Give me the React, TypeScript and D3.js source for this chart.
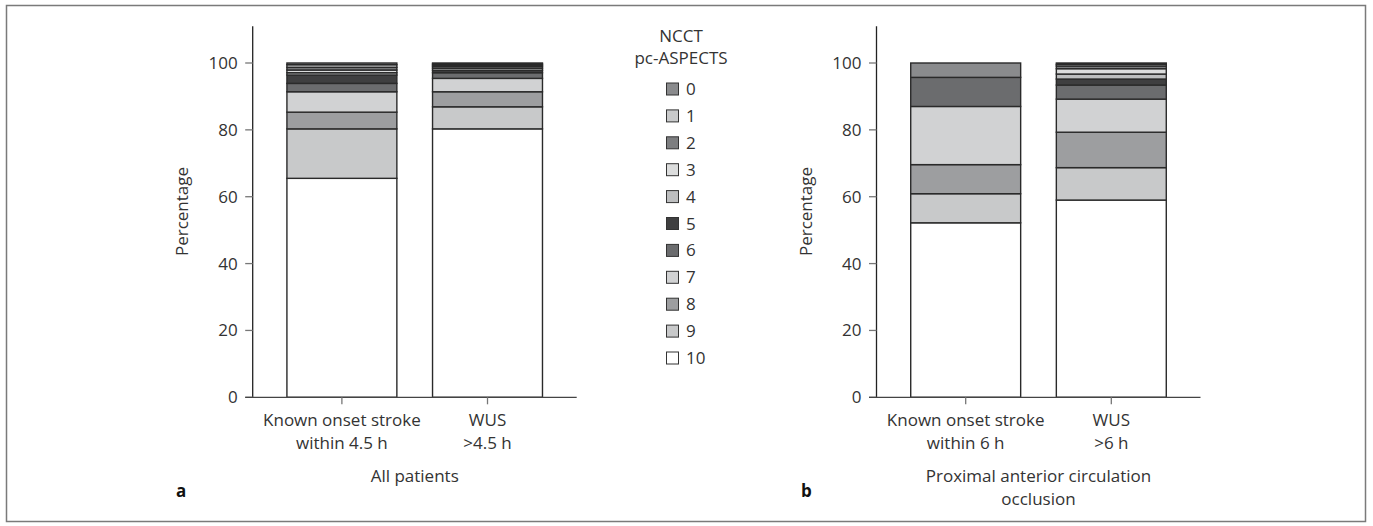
import React, {useEffect, useRef} from 'react';
import * as d3 from 'd3';

// pc-ASPECTS scores, legend order top to bottom
const scores = ['0', '1', '2', '3', '4', '5', '6', '7', '8', '9', '10'];
const scoreColors = ['#8a8b8d', '#c9cacb', '#7d7e80', '#dcdddd', '#bdbebf', '#3f3f40', '#6b6c6e', '#d1d2d3', '#9d9ea0', '#c8c9ca', '#ffffff'];

// panel a: all patients (percent for score 0..10)
const groupsA = ['known', 'wus'];
const labelsA = [['Known onset stroke', 'within 4.5 h'], ['WUS', '>4.5 h']];
const knownA = [0.5, 0.8, 0.8, 0.8, 0.7, 2.5, 2.5, 6.1, 5.0, 14.8, 65.5];
const wusA = [0.3, 0.4, 0.4, 0.5, 0.6, 0.7, 1.7, 4.0, 4.5, 6.6, 80.3];

// panel b: proximal anterior circulation occlusion
const groupsB = ['known', 'wus'];
const labelsB = [['Known onset stroke', 'within 6 h'], ['WUS', '>6 h']];
const knownB = [4.3, 0, 0, 0, 0, 0, 8.7, 17.4, 8.7, 8.7, 52.2];
const wusB = [0.4, 0.5, 0.8, 1.6, 1.5, 1.8, 4.2, 9.9, 10.6, 9.7, 59.0];

const yTicks = [0, 20, 40, 60, 80, 100];

const FONT = "'Open Sans', sans-serif";
const TEXT = '#333';
const FS = 17;

function App() {
  const ref = useRef<SVGSVGElement>(null);

  useEffect(() => {
    const svg = d3.select(ref.current);
    svg.selectAll('*').remove();

    // outer frame
    svg.append('rect')
      .attr('x', 6.5).attr('y', 5.5)
      .attr('width', 1359).attr('height', 516)
      .attr('fill', 'none')
      .attr('stroke', '#7a7a7a')
      .attr('stroke-width', 1.5);

    const y = d3.scaleLinear().domain([0, 100]).range([397.3, 63]);

    drawPanel(svg, 252.7, y, groupsA, labelsA, [knownA, wusA], ['All patients'], 'a', 176);
    drawPanel(svg, 876.5, y, groupsB, labelsB, [knownB, wusB], ['Proximal anterior circulation', 'occlusion'], 'b', 801);

    // legend
    const lg = svg.append('g').attr('transform', `translate(${666} , ${0})`);
    text(svg, 681, 42, FS, 400, TEXT, 'NCCT', 'middle');
    text(svg, 681, 64, FS, 400, TEXT, 'pc-ASPECTS', 'middle');
    const ly = d3.scalePoint<string>().domain(scores).range([89, 358]);
    scores.forEach((s, i) => {
      lg.append('rect')
        .attr('x', 0.5).attr('y', ly(s)! - 6)
        .attr('width', 12).attr('height', 12)
        .attr('fill', scoreColors[i])
        .attr('stroke', '#333')
        .attr('stroke-width', 1);
      text(lg, 20, ly(s)! + 6, FS, 400, TEXT, s, 'start');
    });
  }, []);

  return (
    <svg ref={ref} width={1373} height={526}
      style={{position: 'absolute', left: 0, top: 0, background: '#fff'}} />
  );
}

function text(g: any, x: number, y: number, size: number, weight: number, color: string, t: string, anchor: string) {
  return g.append('text')
    .attr('x', x)
    .attr('y', y)
    .attr('font-size', size)
    .attr('font-weight', weight)
    .attr('fill', color)
    .attr('font-family', FONT)
    .attr('text-anchor', anchor)
    .text(t);
}

function drawPanel(svg: any, x0: number, y: any, groups: string[], labels: string[][], series: number[][],
  title: string[], letter: string, letterX: number) {
  const g = svg.append('g').attr('transform', `translate(${x0} , ${0})`);
  const x = d3.scaleBand<string>().domain(groups).range([0, 324]).paddingInner(0.245).paddingOuter(0.235);

  // stacked data, score 10 at the bottom
  const rows = groups.map((k, i) => {
    const r: any = {group: k};
    scores.forEach((s, j) => { r[s] = series[i][j]; });
    return r;
  });
  const keys = scores.slice().reverse();
  const stacked = d3.stack<any>().keys(keys)(rows);

  stacked.forEach((layer) => {
    const ci = scores.indexOf(layer.key);
    g.selectAll(null)
      .data(layer.filter((d) => d[1] - d[0] > 0))
      .enter()
      .append('rect')
      .attr('x', (d: any) => x(d.data.group))
      .attr('y', (d: any) => y(d[1]))
      .attr('width', x.bandwidth())
      .attr('height', (d: any) => y(d[0]) - y(d[1]))
      .attr('fill', scoreColors[ci])
      .attr('stroke', '#2a2a2a')
      .attr('stroke-width', 1.4);
  });

  // y axis
  g.append('line')
    .attr('x1', 0).attr('x2', 0)
    .attr('y1', y(111)).attr('y2', y(0))
    .attr('stroke', '#222').attr('stroke-width', 1.3);
  yTicks.forEach((t) => {
    g.append('line')
      .attr('x1', -7.5).attr('x2', 0)
      .attr('y1', y(t)).attr('y2', y(t))
      .attr('stroke', '#777').attr('stroke-width', 1.3);
    text(g, -15, y(t) + 6, FS, 400, TEXT, String(t), 'end');
  });

  // x axis
  g.append('line')
    .attr('x1', -7.5).attr('x2', 324)
    .attr('y1', y(0)).attr('y2', y(0))
    .attr('stroke', '#444').attr('stroke-width', 1.3);
  groups.forEach((k, i) => {
    const cx = x(k)! + x.bandwidth() / 2;
    g.append('line')
      .attr('x1', cx).attr('x2', cx)
      .attr('y1', y(0)).attr('y2', y(0) + 7)
      .attr('stroke', '#777').attr('stroke-width', 1.3);
    labels[i].forEach((l, j) => {
      text(g, cx, 426 + j * 23, FS, 400, TEXT, l, 'middle');
    });
  });

  title.forEach((l, j) => {
    text(g, 162, 482 + j * 23, FS, 400, TEXT, l, 'middle');
  });

  // y label
  g.append('text')
    .attr('transform', `translate(${-65} , ${211.5}) rotate(-90)`)
    .attr('font-size', FS)
    .attr('fill', TEXT)
    .attr('font-family', FONT)
    .attr('text-anchor', 'middle')
    .text('Percentage');

  text(svg, letterX, 497, 17, 700, '#111', letter, 'start');
}

export default App;
